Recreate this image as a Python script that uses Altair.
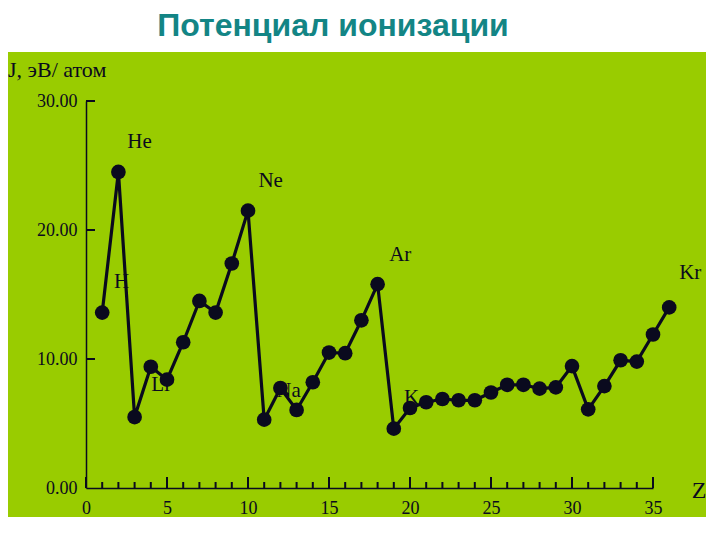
import altair as alt
import pandas as pd

# Ionization potential (eV/atom) for Z = 1..36
Z = list(range(1, 37))
J = [13.6, 24.5, 5.5, 9.4, 8.4, 11.3, 14.5, 13.6, 17.4, 21.5,
     5.3, 7.75, 6.05, 8.2, 10.5, 10.45, 13.0, 15.8, 4.6, 6.2,
     6.65, 6.9, 6.8, 6.8, 7.4, 8.0, 8.0, 7.7, 7.8, 9.45,
     6.1, 7.9, 9.9, 9.8, 11.9, 14.0]

# element annotations (anchor in data units)
label_text = ["He", "Ne", "Ar", "Kr", "H", "Li", "Na", "K"]
label_z = [3.3, 11.4, 19.4, 37.3, 2.2, 4.6, 12.5, 20.1]
label_j = [26.8, 23.8, 18.1, 16.7, 16.0, 8.0, 7.5, 7.0]

x_ticks = list(range(0, 36, 5))
y_ticks = [0, 10, 20, 30]
minor_z = [z for z in range(0, 36) if z % 5 != 0]

W, H = 567, 387
GREEN = "#99cc00"
INK = "#0a0a1e"
SERIF = "Liberation Serif"

df = pd.DataFrame({"Z": Z, "J": J})
labels = pd.DataFrame({"t": label_text, "Z": label_z, "J": label_j})
minor = pd.DataFrame({"Z": minor_z})
major = pd.DataFrame({"Z": x_ticks})
ymaj = pd.DataFrame({"J": y_ticks[1:]})

xs = alt.Scale(domain=[0, 35], nice=False, zero=False)
ys = alt.Scale(domain=[0, 30], nice=False)

xaxis = alt.Axis(values=x_ticks, ticks=False, grid=False, title=None,
                 labelFont=SERIF, labelFontSize=18, labelColor=INK,
                 labelPadding=11, domainColor=INK, domainWidth=1.5,
                 labelFlush=False, zindex=1)
yaxis = alt.Axis(values=y_ticks, ticks=False, grid=False, title=None,
                 format=".2f", labelFont=SERIF, labelFontSize=18,
                 labelColor=INK, labelPadding=9, domainColor=INK,
                 domainWidth=1.5, zindex=1)

one = df.head(1)

bg = alt.Chart(one).mark_rect(color=GREEN).encode(
    x=alt.value(-78), x2=alt.value(620), y=alt.value(-49), y2=alt.value(420)
)

title = alt.Chart(one).mark_text(
    text="Потенциал ионизации", font="Liberation Sans", fontWeight="bold",
    fontSize=32, color="#138585", align="center", baseline="middle"
).encode(x=alt.value(247), y=alt.value(-75))

ytitle = alt.Chart(one).mark_text(
    text="J, эВ/ атом", font=SERIF, fontSize=22, color=INK,
    align="left", baseline="middle"
).encode(x=alt.value(-78), y=alt.value(-31))

ztitle = alt.Chart(one).mark_text(
    text="Z", font=SERIF, fontSize=24, color=INK,
    align="center", baseline="middle"
).encode(x=alt.value(613), y=alt.value(390))

minor_ticks = alt.Chart(minor).mark_rule(color=INK, strokeWidth=2).encode(
    x=alt.X("Z:Q", scale=xs), y=alt.value(H), y2=alt.value(H - 6)
)
major_ticks = alt.Chart(major).mark_rule(color=INK, strokeWidth=2).encode(
    x=alt.X("Z:Q", scale=xs), y=alt.value(H), y2=alt.value(H - 11)
)

y_tick_marks = alt.Chart(ymaj).mark_rule(color=INK, strokeWidth=2).encode(
    y=alt.Y("J:Q", scale=ys), x=alt.value(0), x2=alt.value(9)
)

text = alt.Chart(labels).mark_text(
    font=SERIF, fontSize=21, color=INK, align="center", baseline="middle"
).encode(x=alt.X("Z:Q", scale=xs), y=alt.Y("J:Q", scale=ys), text="t:N")

line = alt.Chart(df).mark_line(color=INK, strokeWidth=3.2, clip=False).encode(
    x=alt.X("Z:Q", scale=xs, axis=xaxis), y=alt.Y("J:Q", scale=ys, axis=yaxis)
)
pts = alt.Chart(df).mark_point(filled=True, color=INK, size=215, opacity=1, clip=False).encode(
    x=alt.X("Z:Q", scale=xs), y=alt.Y("J:Q", scale=ys)
)

chart = alt.layer(bg, title, ytitle, ztitle, minor_ticks, major_ticks,
                  y_tick_marks, text, line, pts).properties(
    width=W, height=H,
    padding={"left": 78, "top": 93, "right": 53, "bottom": 29},
    autosize="none", background="white",
).configure_view(stroke=None)

chart.save("out.html", embed_options={"renderer": "svg", "actions": False})
